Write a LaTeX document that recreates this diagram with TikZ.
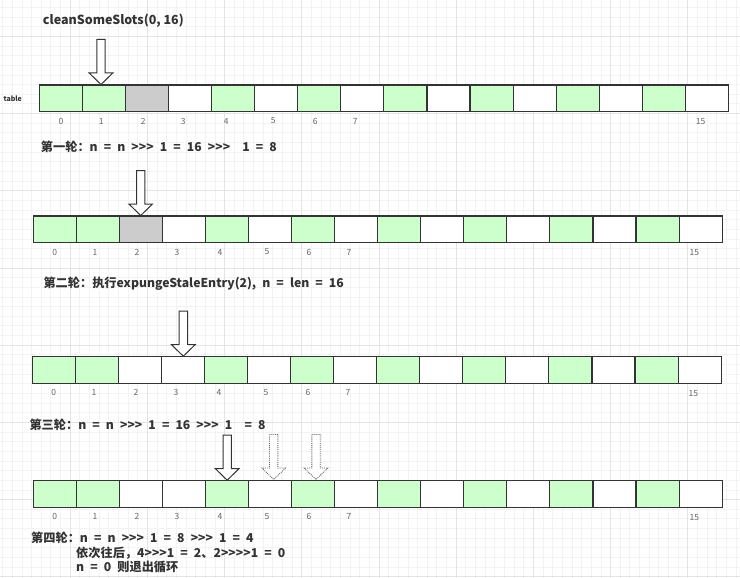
\documentclass[tikz,border=0pt]{standalone}
\usepackage{fontspec}
\newfontfamily\mainf{Noto Sans CJK SC}
\newcommand\stepfont{\mainf\fontsize{12.2}{14}\selectfont\bfseries\spaceskip 0.5em plus 0.1em\relax}
\definecolor{cg}{HTML}{CCFFCC}
\definecolor{cs}{HTML}{CCCCCC}
\definecolor{cw}{HTML}{FFFFFF}
\definecolor{cellborder}{HTML}{333333}
\definecolor{txt}{HTML}{333333}
\definecolor{idxcol}{HTML}{666666}
\definecolor{gridminor}{HTML}{F3F3F3}
\definecolor{gridmajor}{HTML}{E4E4E4}
\tikzset{
  cell/.style={draw=cellborder, line width=1.1pt, minimum width=43.05pt, minimum height=26.7pt, inner sep=0pt, outer sep=0pt},
  idx/.style={font=\mainf\fontsize{8.5}{9}\selectfont, text=idxcol, inner sep=0pt},
  title/.style={font=\mainf\fontsize{12.5}{15}\selectfont\bfseries, text=txt, anchor=west, inner sep=0pt},
  step text/.style={font=\stepfont, text=txt, anchor=west, inner sep=0pt},
  arrowline/.style={draw=cellborder, fill=white, line width=1pt, line join=miter},
  ghostline/.style={draw=idxcol, fill=white, line width=0.9pt, densely dotted},
  blockarrow/.pic={\path[pic actions] (-4.2,-45) -- (4.2,-45) -- (4.2,-11.5) -- (11.8,-11.5) -- (0,0) -- (-11.8,-11.5) -- (-4.2,-11.5) -- cycle;}
}
\newcommand\tablerow[4]{%
  \foreach \f [count=\i from 0] in {#4} {
    \node[cell, fill=c\f] (#1c\i) at ({#2+43.05*\i+21.525},{#3+13.35}) {};
  }
  \foreach \o [count=\i from 0] in {21.5,61.7,103.7,143.7,186.7,233.7,275.7,315.7} {
    \node[idx] (#1l\i) at ({#2+\o},{#3+36}) {\i};
  }
  \node[idx] (#1l15) at ({#2+661},{#3+37}) {15};
}
\begin{document}
\begin{tikzpicture}[x=1pt,y=-1pt]
\useasboundingbox (0,0) rectangle (740,578);
\fill[white] (0,0) rectangle (740,578);
% background grid
\foreach \i in {0,...,76} \draw[gridminor, line width=0.8pt] ({2.6+9.65*\i},0) -- ({2.6+9.65*\i},578);
\foreach \i in {0,...,59} \draw[gridminor, line width=0.8pt] (0,{7.4+9.65*\i}) -- (740,{7.4+9.65*\i});
\foreach \i in {0,...,8} \draw[gridmajor, line width=0.8pt] ({70.15+77.2*\i},0) -- ({70.15+77.2*\i},578);
\foreach \i in {0,...,7} \draw[gridmajor, line width=0.8pt] (0,{36.35+77.2*\i}) -- (740,{36.35+77.2*\i});

% title and labels
\node[title] (title) at (42.7,20.7) {cleanSomeSlots(0, 16)};
\node[font=\mainf\fontsize{7}{8}\selectfont\bfseries, text=txt, inner sep=0pt] (tablelbl) at (12.7,99) {table};

% rows
\tablerow{a}{39.5}{85}{g,g,s,w,g,w,g,w,g,w,g,w,g,w,g,w}
\tablerow{b}{33.3}{216}{g,g,s,w,g,w,g,w,g,w,g,w,g,w,g,w}
\tablerow{c}{32.3}{356.7}{g,g,w,w,g,w,g,w,g,w,g,w,g,w,g,w}
\tablerow{d}{33.3}{480.7}{g,g,w,w,g,w,g,w,g,w,g,w,g,w,g,w}

% step texts
\node[step text] (s1) at (40.7,146.7) {第一轮：n = n >>> 1 = 16 >>>\ \ 1 = 8};
\node[step text] (s2) at (43.3,283.3) {第二轮：执行expungeStaleEntry(2), n = len = 16};
\node[step text] (s3) at (29.3,425) {第三轮：n = n >>> 1 = 16 >>> 1\ \ = 8};
\node[step text] (s4) at (31,537.7) {第四轮：n = n >>> 1 = 8 >>> 1 = 4};
\node[step text] (s5) at (76,552.7) {依次往后，4>>>1 = 2、2>>>>1 = 0};
\node[step text] (s6) at (76,566.7) {n = 0 则退出循环};

% arrows
\pic[arrowline] at (101,84.5) {blockarrow};
\pic[arrowline] at (140.7,215.5) {blockarrow};
\pic[arrowline] at (183.3,356.2) {blockarrow};
\pic[arrowline] at (227.2,480.2) {blockarrow};
\pic[ghostline] at (273.7,479.5) {blockarrow};
\pic[ghostline] at (316,479.5) {blockarrow};
\end{tikzpicture}
\end{document}
